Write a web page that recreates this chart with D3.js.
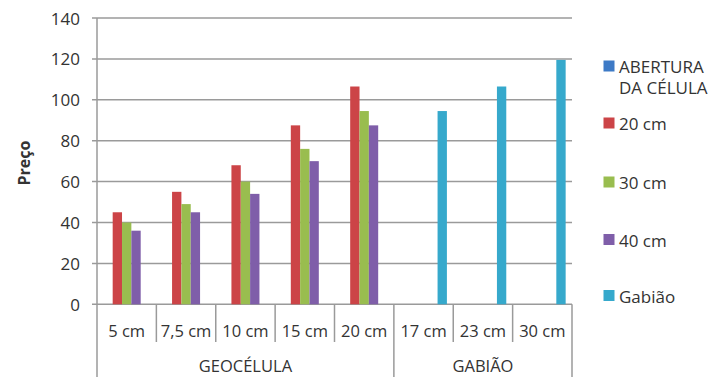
<!DOCTYPE html>
<html>
<head>
<meta charset="utf-8">
<script src="https://cdn.jsdelivr.net/npm/d3@7/dist/d3.min.js"></script>
<style>
  html, body { margin: 0; padding: 0; background: #fff; }
  svg { display: block; }
  text { font-family: "Open Sans", "Noto Sans", sans-serif; fill: #333; }
</style>
</head>
<body>
<svg id="chart" width="710" height="377"></svg>
<script>
// Price comparison: geocell vs gabion, by size
const categories = ["5 cm", "7,5 cm", "10 cm", "15 cm", "20 cm", "17 cm", "23 cm", "30 cm"];
const groups = [
  { label: "GEOCÉLULA", from: 0, to: 5 },
  { label: "GABIÃO", from: 5, to: 8 }
];
const seriesNames = ["ABERTURA DA CÉLULA", "20 cm", "30 cm", "40 cm", "Gabião"];
const aberturaValues = [null, null, null, null, null, null, null, null];
const values20 = [45, 55, 68, 87.5, 106.5, null, null, null];
const values30 = [40, 49, 60, 76, 94.5, null, null, null];
const values40 = [36, 45, 54, 70, 87.5, null, null, null];
const gabiaoValues = [null, null, null, null, null, 94.5, 106.5, 119.5];
const yTicks = [0, 20, 40, 60, 80, 100, 120, 140];

const seriesValues = [aberturaValues, values20, values30, values40, gabiaoValues];
const colors = ["#3d7ac6", "#cc4447", "#99bd4f", "#7f5ea9", "#36a9cc"];

const svg = d3.select("#chart");
const plotLeft = 97, plotRight = 572, plotTop = 18, plotBottom = 304.3;

const y = d3.scaleLinear().domain([0, 140]).range([plotBottom, plotTop]);
const x0 = d3.scaleBand().domain(categories).range([plotLeft, plotRight]).paddingInner(0).paddingOuter(0);
const x1 = d3.scaleBand().domain(seriesNames).range([0, x0.bandwidth()]).paddingInner(0).paddingOuter(0.68);

// horizontal gridlines with short ticks left of the axis
const grid = svg.append("g");
grid.selectAll("line").data(yTicks).join("line")
  .attr("x1", plotLeft - 5).attr("x2", plotRight)
  .attr("y1", d => y(d)).attr("y2", d => y(d))
  .attr("stroke", "#9a9a9a").attr("stroke-width", 1.5);

// y tick labels
svg.append("g").selectAll("text").data(yTicks).join("text")
  .attr("x", 80).attr("y", d => y(d))
  .attr("text-anchor", "end").attr("dominant-baseline", "central")
  .style("font-size", "17px")
  .text(d => d);

// bars
const barData = [];
seriesValues.forEach((vals, si) => {
  vals.forEach((v, ci) => {
    if (v != null) barData.push({ series: seriesNames[si], cat: categories[ci], value: v, color: colors[si] });
  });
});
svg.append("g").selectAll("rect").data(barData).join("rect")
  .attr("x", d => x0(d.cat) + x1(d.series))
  .attr("width", x1.bandwidth())
  .attr("y", d => y(d.value))
  .attr("height", d => y(0) - y(d.value))
  .attr("fill", d => d.color);

// vertical axis line
svg.append("line")
  .attr("x1", plotLeft).attr("x2", plotLeft).attr("y1", plotTop).attr("y2", 377)
  .attr("stroke", "#9a9a9a").attr("stroke-width", 1.5);

// category separators (short) and group separators (full height)
const groupEdges = new Set();
groups.forEach(g => { groupEdges.add(g.from); groupEdges.add(g.to); });
const seps = d3.range(1, categories.length + 1);
svg.append("g").selectAll("line").data(seps).join("line")
  .attr("x1", i => i < categories.length ? x0(categories[i]) : plotRight)
  .attr("x2", i => i < categories.length ? x0(categories[i]) : plotRight)
  .attr("y1", plotBottom)
  .attr("y2", i => groupEdges.has(i) ? 377 : 342)
  .attr("stroke", "#9a9a9a").attr("stroke-width", 1.5);

// category labels
svg.append("g").selectAll("text").data(categories).join("text")
  .attr("x", d => x0(d) + x0.bandwidth() / 2)
  .attr("y", 330)
  .attr("text-anchor", "middle").attr("dominant-baseline", "central")
  .style("font-size", "16.5px")
  .text(d => d);

// group labels
svg.append("g").selectAll("text").data(groups).join("text")
  .attr("x", g => (x0(categories[g.from]) + (g.to < categories.length ? x0(categories[g.to]) : plotRight)) / 2)
  .attr("y", 365)
  .attr("text-anchor", "middle").attr("dominant-baseline", "central")
  .style("font-size", "16.5px")
  .text(g => g.label);

// y axis title
svg.append("text")
  .attr("transform", "translate(24,163) rotate(-90)")
  .attr("text-anchor", "middle").attr("dominant-baseline", "central")
  .style("font-size", "16px").style("font-weight", "bold")
  .text("Preço");

// legend
const legendRows = [
  { name: seriesNames[0], lines: ["ABERTURA", "DA CÉLULA"], y: 66.5 },
  { name: seriesNames[1], lines: ["20 cm"], y: 123.5 },
  { name: seriesNames[2], lines: ["30 cm"], y: 182.5 },
  { name: seriesNames[3], lines: ["40 cm"], y: 240 },
  { name: seriesNames[4], lines: ["Gabião"], y: 296 }
];
const legend = svg.append("g");
legendRows.forEach(r => {
  legend.append("rect")
    .attr("x", 603.5).attr("y", r.y - 6).attr("width", 11).attr("height", 11)
    .attr("fill", colors[seriesNames.indexOf(r.name)]);
  r.lines.forEach((ln, j) => {
    legend.append("text")
      .attr("x", 619).attr("y", r.y + j * 20.8)
      .attr("dominant-baseline", "central")
      .style("font-size", "17px")
      .text(ln);
  });
});
</script>
</body>
</html>
